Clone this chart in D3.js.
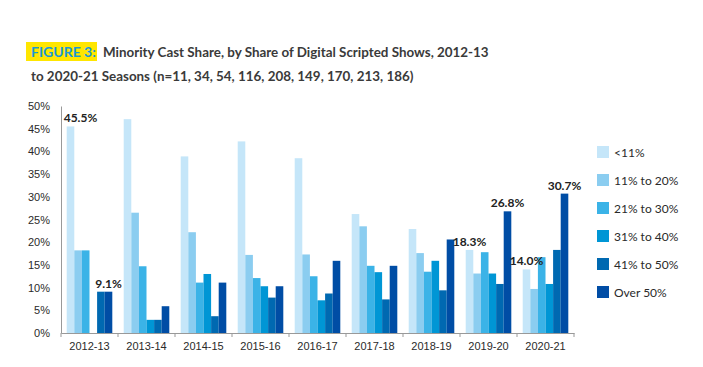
<!DOCTYPE html>
<html lang="en">
<head>
  <meta charset="UTF-8" />
  <title>Minority Cast Share by Share of Digital Scripted Shows</title>
  <script src="https://d3js.org/d3.v7.min.js"></script>
  <style>
    body { margin: 0; background: #fff; font-family: "Lato", "Open Sans", sans-serif; }
    .title { font-family: "Lato", sans-serif; font-weight: 700; font-size: 13.4px; fill: #3a3a3a; }
    .tick text { font-size: 11px; fill: #2a2a2a; }
    .legend text { font-size: 12px; fill: #2a2a2a; }
    .label { font-size: 12px; font-weight: 700; fill: #222; }
  </style>
</head>
<body>
<svg width="703" height="367"></svg>
<script>
const seasons = ["2012-13", "2013-14", "2014-15", "2015-16", "2016-17", "2017-18", "2018-19", "2019-20", "2020-21"];
const groups = ["<11%", "11% to 20%", "21% to 30%", "31% to 40%", "41% to 50%", "Over 50%"];

// one array per season, in the order of groups
const values = [
  [45.5, 18.2, 18.2, 0, 9.1, 9.1],
  [47.1, 26.5, 14.7, 2.9, 2.9, 5.9],
  [38.9, 22.2, 11.1, 13.0, 3.7, 11.1],
  [42.2, 17.2, 12.1, 10.3, 7.8, 10.3],
  [38.5, 17.3, 12.5, 7.2, 8.7, 15.9],
  [26.2, 23.5, 14.8, 13.4, 7.4, 14.8],
  [22.9, 17.6, 13.5, 15.9, 9.4, 20.6],
  [18.3, 13.1, 17.8, 13.1, 10.8, 26.8],
  [14.0, 9.7, 16.7, 10.8, 18.3, 30.7]
];

const colors = ["#c5e6f9", "#8bcdf0", "#3bb3e7", "#0096d5", "#0069b1", "#004da5"];
const yTicks = [0, 5, 10, 15, 20, 25, 30, 35, 40, 45, 50];

// which bars carry a value label: [season index, group index]
const labelled = [[0, 0], [0, 5], [7, 0], [7, 5], [8, 0], [8, 5]];

const svg = d3.select("svg");
const margin = { left: 61, top: 106 };

const x0 = d3.scaleBand().domain(seasons).range([margin.left, 574]).padding(0);
const x1 = d3.scaleBand().domain(groups).range([x0.bandwidth() * 0.1, x0.bandwidth() * 0.9]).padding(0);
const y = d3.scaleLinear().domain([0, 50]).range([333, margin.top]);
const color = d3.scaleOrdinal().domain(groups).range(colors);

// title
const title = svg.append("g");
title.append("rect").attr("x", 26).attr("y", 42).attr("width", 71).attr("height", 19).attr("fill", "#ffe600");
title.append("text").attr("class", "title").attr("x", 31).attr("y", 56.5).style("fill", "#1b98d5")
  .style("font-size", "14px").text("FIGURE 3:");
title.append("text").attr("class", "title").attr("x", 103).attr("y", 56.5)
  .text("Minority Cast Share, by Share of Digital Scripted Shows, 2012-13");
title.append("text").attr("class", "title").attr("x", 31).attr("y", 81)
  .text("to 2020-21 Seasons (n=11, 34, 54, 116, 208, 149, 170, 213, 186)");

// bars
const season = svg.append("g")
  .selectAll("g")
  .data(seasons)
  .join("g")
  .attr("transform", d => `translate(${x0(d)},0)`);

season.selectAll("rect")
  .data((d, i) => groups.map((g, j) => ({ group: g, value: values[i][j] })))
  .join("rect")
  .attr("x", d => x1(d.group))
  .attr("y", d => y(d.value))
  .attr("width", x1.bandwidth())
  .attr("height", d => y(0) - y(d.value))
  .attr("fill", d => color(d.group));

// value labels
svg.append("g")
  .selectAll("text")
  .data(labelled)
  .join("text")
  .attr("class", "label")
  .attr("x", d => x0(seasons[d[0]]) + x1(groups[d[1]]) + x1.bandwidth() / 2 + (d[0] === 0 && d[1] === 0 ? 10 : 0))
  .attr("y", d => y(values[d[0]][d[1]]) - 4)
  .attr("text-anchor", "middle")
  .text(d => values[d[0]][d[1]].toFixed(1) + "%");

// axes
const yAxis = svg.append("g")
  .attr("transform", `translate(${margin.left},0)`)
  .call(d3.axisLeft(y).tickValues(yTicks).tickFormat(d => d + "%").tickSize(0).tickPadding(11));
yAxis.select(".domain").attr("stroke", "#999");

const xAxis = svg.append("g")
  .attr("transform", `translate(0,${y(0)})`)
  .call(d3.axisBottom(x0).tickSize(0).tickPadding(9));
xAxis.select(".domain").attr("stroke", "#999");
xAxis.append("g")
  .selectAll("line")
  .data(seasons.concat(["end"]))
  .join("line")
  .attr("x1", (d, i) => i < seasons.length ? x0(d) : x0.range()[1])
  .attr("x2", (d, i) => i < seasons.length ? x0(d) : x0.range()[1])
  .attr("y1", 0).attr("y2", 4)
  .attr("stroke", "#999");

// legend
const legend = svg.append("g")
  .attr("class", "legend")
  .selectAll("g")
  .data(groups)
  .join("g")
  .attr("transform", (d, i) => `translate(597,${146 + i * 28})`);

legend.append("rect")
  .attr("width", 12).attr("height", 12)
  .attr("fill", d => color(d));

legend.append("text")
  .attr("x", 17).attr("y", 10.5)
  .text(d => d);
</script>
</body>
</html>
